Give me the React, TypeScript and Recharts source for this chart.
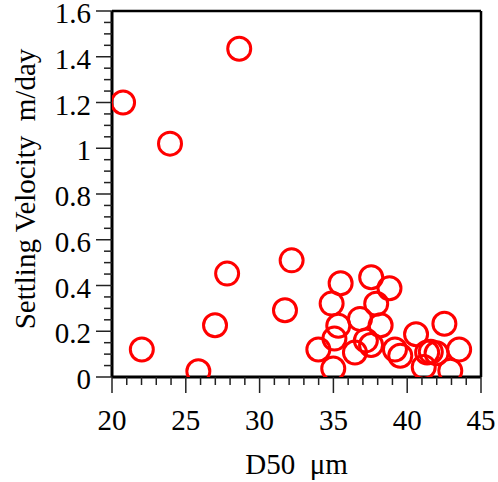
import React from "react";
import { ScatterChart, Scatter, XAxis, YAxis, ReferenceLine, Label } from "recharts";

// D50 (µm) and settling velocity (m/day)
const d50 = [
  20.75, 23.93, 28.62, 22.02, 25.85, 26.98, 27.8, 32.17, 31.72,
  35.49, 37.56, 38.8, 34.88, 37.9, 35.33, 36.8, 38.2, 35.07, 33.98,
  36.46, 37.55, 37.2, 34.99, 39.17, 39.53, 40.6, 42.52, 43.52, 41.12,
  42.92, 41.99, 41.35, 41.6,
];
const velocity = [
  1.2, 1.02, 1.435, 0.12, 0.025, 0.226, 0.452, 0.51, 0.292,
  0.41, 0.436, 0.388, 0.321, 0.32, 0.224, 0.254, 0.226, 0.168, 0.12,
  0.107, 0.14, 0.16, 0.037, 0.12, 0.093, 0.187, 0.233, 0.12, 0.044,
  0.027, 0.104, 0.107, 0.11,
];

const xMajorTicks = [20, 25, 30, 35, 40, 45];
const yMajorTicks = [0, 0.2, 0.4, 0.6, 0.8, 1, 1.2, 1.4, 1.6];
const xAllTicks = Array.from({ length: 26 }, (_, i) => 20 + i);
const yAllTicks = Array.from({ length: 33 }, (_, i) => Math.round(i * 5) / 100);

const xTitle = "D50  μm";
const yTitle = "Settling Velocity  m/day";

const data = d50.map((x, i) => ({ x, y: velocity[i] }));

const FONT = '"Liberation Serif", "Times New Roman", Times, serif';
const FS = 29;
const textStyle: React.CSSProperties = { fontFamily: FONT, fontSize: FS, whiteSpace: "pre" };

const isMajorY = (v: number) => yMajorTicks.some((m) => Math.abs(m - v) < 1e-6);

const XTick = (props: any) => {
  const { x, y, payload } = props;
  const v = payload.value;
  const major = xMajorTicks.includes(v);
  return (
    <g>
      <line x1={x} y1={y} x2={x} y2={y + (major ? 16 : 8)} stroke="#222" strokeWidth={1.5} />
      {major && (
        <text x={x} y={y + 53} textAnchor="middle" style={textStyle} fill="#000">
          {v}
        </text>
      )}
    </g>
  );
};

const YTick = (props: any) => {
  const { x, y, payload } = props;
  const v = payload.value;
  const major = isMajorY(v);
  return (
    <g>
      <line x1={x} y1={y} x2={x - (major ? 16 : 8)} y2={y} stroke="#222" strokeWidth={1.5} />
      {major && (
        <text x={x - 21} y={y + 12} textAnchor="end" style={textStyle} fill="#000">
          {String(Math.round(v * 10) / 10)}
        </text>
      )}
    </g>
  );
};

const Ring = (props: any) => {
  const { cx, cy } = props;
  return <circle cx={cx} cy={cy} r={11.5} stroke="#ff0000" strokeWidth={3} fill="none" />;
};

export default function App() {
  return (
    <div style={{ position: "absolute", left: 0, top: 0, width: 498, height: 482 }}>
      <style>{`.recharts-surface{overflow:visible}`}</style>
      <ScatterChart width={498} height={482} margin={{ top: 11, right: 17, bottom: 0, left: 0 }}>
        <XAxis
          type="number"
          dataKey="x"
          domain={[20, 45]}
          ticks={xAllTicks}
          interval={0}
          tickSize={0}
          tickMargin={0}
          tickLine={false}
          tick={<XTick />}
          height={105}
          axisLine={{ stroke: "#000", strokeWidth: 3 }}
          allowDataOverflow
        >
          <Label
            content={(p: any) => {
              const vb = p.viewBox;
              return (
                <text
                  x={vb.x + vb.width / 2}
                  y={vb.y + 96.5}
                  textAnchor="middle"
                  fill="#000"
                  style={textStyle}
                >
                  {xTitle}
                </text>
              );
            }}
          />
        </XAxis>
        <YAxis
          type="number"
          dataKey="y"
          domain={[0, 1.6]}
          ticks={yAllTicks}
          interval={0}
          tickSize={0}
          tickMargin={0}
          tickLine={false}
          tick={<YTick />}
          width={112}
          axisLine={{ stroke: "#000", strokeWidth: 3 }}
          allowDataOverflow
        >
          <Label
            content={(p: any) => {
              const vb = p.viewBox;
              const cx = 35;
              const cy = vb.y + vb.height / 2 - 5;
              return (
                <text
                  x={cx}
                  y={cy}
                  transform={`rotate(-90 ${cx} ${cy})`}
                  textAnchor="middle"
                  fill="#000"
                  style={textStyle}
                >
                  {yTitle}
                </text>
              );
            }}
          />
        </YAxis>
        <ReferenceLine y={1.6} stroke="#000" strokeWidth={2.5} />
        <ReferenceLine x={45} stroke="#000" strokeWidth={2.5} />
        <Scatter data={data} shape={<Ring />} isAnimationActive={false} />
      </ScatterChart>
    </div>
  );
}
